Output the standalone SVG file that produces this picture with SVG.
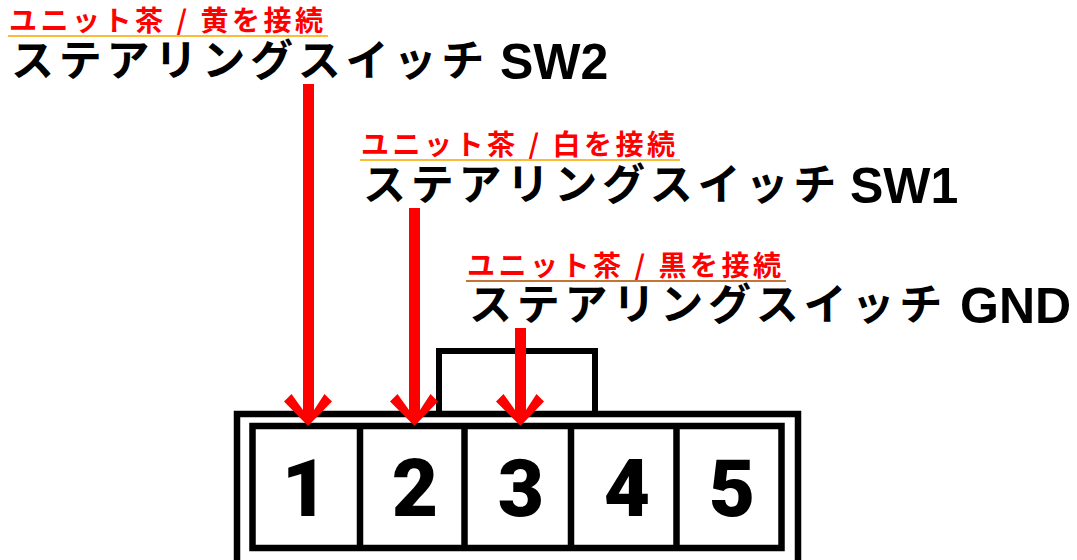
<svg xmlns="http://www.w3.org/2000/svg" width="1077" height="560" viewBox="0 0 1077 560">
<style>
text{font-family:"Noto Sans CJK JP","Liberation Sans",sans-serif;font-weight:700}
.r{fill:#f00;font-size:28px;letter-spacing:3.500px}
.k{fill:#000;font-size:43px;letter-spacing:4.800px}
.k tspan{font-family:"Liberation Sans",sans-serif;letter-spacing:0;font-size:50px}
.n{font-family:Roboto,sans-serif;font-weight:900;font-size:80px;fill:#000;text-anchor:middle}
.b{fill:none;stroke:#000}
.a{fill:#f00}
</style>
<rect width="1077" height="560" fill="#fff"/>
<g id="connector-body">
<rect class="b" x="439" y="351" width="156" height="66" stroke-width="6"/>
<rect x="237" y="414" width="561" height="160" fill="#fff" stroke="#000" stroke-width="6.500"/>
<rect class="b" x="252.500" y="426" width="529" height="122" stroke-width="6.500"/>
<path class="b" stroke-width="6.500" d="M360 426V548M464.500 426V548M571 426V548M676.500 426V548"/>
</g>
<g id="pin-1"><text class="n" x="305" y="516">1</text></g>
<g id="pin-2"><text class="n" x="415" y="516">2</text></g>
<g id="pin-3"><text class="n" x="521" y="516">3</text></g>
<g id="pin-4"><text class="n" x="627" y="516">4</text></g>
<g id="pin-5"><text class="n" x="732" y="516">5</text></g>
<g id="label-sw2">
<text class="r" x="9" y="31">ユニット茶 / 黄を接続</text>
<rect x="8" y="35" width="320" height="2" fill="#fbbc3a"/>
<text class="k" x="11" y="76">ステアリングスイッチ <tspan x="500" y="79">SW2</tspan></text>
</g>
<g id="label-sw1">
<text class="r" x="361" y="155">ユニット茶 / 白を接続</text>
<rect x="360" y="159" width="320" height="2" fill="#fbbc3a"/>
<text class="k" x="363" y="200">ステアリングスイッチ <tspan x="850" y="203">SW1</tspan></text>
</g>
<g id="label-gnd">
<text class="r" x="467" y="276">ユニット茶 / 黒を接続</text>
<rect x="466" y="280" width="320" height="2" fill="#c47535"/>
<text class="k" x="469" y="320">ステアリングスイッチ <tspan x="960" y="323">GND</tspan></text>
</g>
<g id="connectors">
<path id="a1" class="a" d="M303 84H314V410L324.500 394 332 401.500 308 426 284 401.500 291.500 394 303 410Z"/>
<path id="a2" class="a" d="M409 208H420V410L430.500 394 438 401.500 414.500 426 390 401.500 397.500 394 409 410Z"/>
<path id="a3" class="a" d="M515 328H526V410L536.500 394 544 401.500 520.500 426 496 401.500 503.500 394 515 410Z"/>
</g>
</svg>
